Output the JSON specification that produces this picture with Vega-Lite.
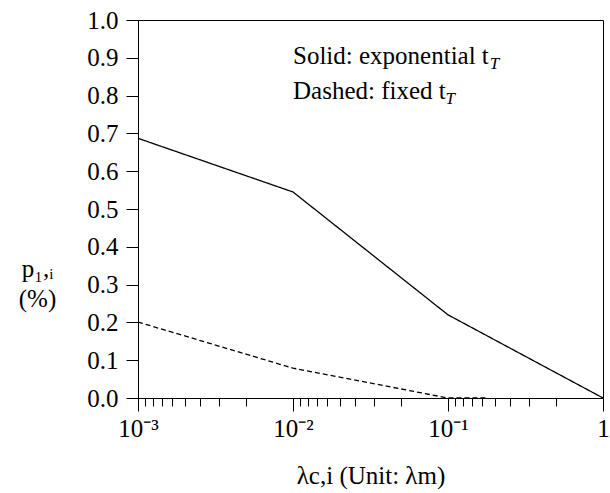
{
  "$schema": "https://vega.github.io/schema/vega-lite/v6.json",
  "autosize": "none",
  "width": 465,
  "height": 378,
  "padding": {"left": 138, "top": 20, "right": 7, "bottom": 95},
  "background": "white",
  "view": {"stroke": "black", "strokeWidth": 1},
  "config": {
    "font": "Liberation Serif",
    "axis": {"domainColor": "black", "tickColor": "black", "grid": false, "labelFont": "Liberation Serif", "titleFont": "Liberation Serif", "labelFontSize": 25, "titleFontSize": 25, "labelColor": "black", "titleColor": "black", "titleFontWeight": "normal"}
  },
  "datasets": {
    "lines": [
      {"lambda": 0.001, "p": 0.687, "series": "Solid"},
      {"lambda": 0.01, "p": 0.545, "series": "Solid"},
      {"lambda": 0.1, "p": 0.22, "series": "Solid"},
      {"lambda": 1, "p": 0.0, "series": "Solid"},
      {"lambda": 0.001, "p": 0.201, "series": "Dashed"},
      {"lambda": 0.01, "p": 0.079, "series": "Dashed"},
      {"lambda": 0.1, "p": 0.0, "series": "Dashed"},
      {"lambda": 0.18, "p": 0.0, "series": "Dashed"}
    ],
    "notes": [
      {"lx": 0.01, "sx": 0.186, "ly": 0.884, "main": "Solid: exponential t", "sub": "T"},
      {"lx": 0.01, "sx": 0.0965, "ly": 0.791, "main": "Dashed: fixed t", "sub": "T"}
    ]
  },
  "resolve": {"scale": {"x": "independent"}, "axis": {"x": "independent"}},
  "layer": [
    {
      "data": {"name": "lines"},
      "mark": {"type": "line", "color": "black", "strokeWidth": 1.3},
      "encoding": {
        "x": {
          "field": "lambda", "type": "quantitative",
          "scale": {"type": "log", "domain": [0.001, 1]},
          "axis": {
            "orient": "bottom",
            "title": null,
            "labels": false,
            "domain": true,
            "tickCount": 200,
            "values": [0.0011111, 0.00125, 0.0014286, 0.0016667, 0.002, 0.0025, 0.0033333, 0.005, 0.011111, 0.0125, 0.014286, 0.016667, 0.02, 0.025, 0.033333, 0.05, 0.11111, 0.125, 0.14286, 0.16667, 0.2, 0.25, 0.33333, 0.5],
            "tickSize": 8
          }
        },
        "y": {
          "field": "p", "type": "quantitative",
          "scale": {"domain": [0, 1], "nice": false, "zero": false},
          "axis": {
            "values": [0, 0.1, 0.2, 0.3, 0.4, 0.5, 0.6, 0.7, 0.8, 0.9, 1.0],
            "tickCount": 50,
            "format": ".1f",
            "labelOverlap": false,
            "labelFlush": false,
            "tickSize": 12,
            "labelPadding": 8,
            "title": ["p₁,ᵢ", "(%)"],
            "titleAngle": 0,
            "titleAlign": "center",
            "titleBaseline": "alphabetic",
            "titleLineHeight": 30,
            "titleX": -101,
            "titleY": 256
          }
        },
        "strokeDash": {
          "field": "series", "type": "nominal",
          "scale": {"domain": ["Solid", "Dashed"], "range": [[1, 0], [5, 3]]},
          "legend": null
        }
      }
    },
    {
      "data": {"name": "notes"},
      "mark": {"type": "text", "align": "left", "baseline": "alphabetic", "fontSize": 25, "font": "Liberation Serif", "color": "black"},
      "encoding": {
        "x": {
          "field": "lx", "type": "quantitative",
          "scale": {"type": "log", "domain": [0.001, 1]},
          "axis": {
            "orient": "bottom",
            "title": "λc,i (Unit: λm)",
            "titlePadding": 22,
            "labelPadding": 5,
            "domain": false,
            "tickCount": 50,
            "values": [0.001, 0.01, 0.1, 1],
            "labelExpr": "datum.value === 0.001 ? '10⁻³' : datum.value === 0.01 ? '10⁻²' : datum.value === 0.1 ? '10⁻¹' : '1'",
            "labelFlush": false,
            "labelOverlap": false,
            "tickSize": 13
          }
        },
        "y": {"field": "ly", "type": "quantitative"},
        "text": {"field": "main"}
      }
    },
    {
      "data": {"name": "notes"},
      "mark": {"type": "text", "align": "left", "baseline": "alphabetic", "fontSize": 17, "fontStyle": "italic", "dy": 5, "font": "Liberation Serif", "color": "black"},
      "encoding": {
        "x": {"field": "sx", "type": "quantitative", "scale": {"type": "log", "domain": [0.001, 1]}, "axis": null},
        "y": {"field": "ly", "type": "quantitative"},
        "text": {"field": "sub"}
      }
    }
  ]
}
